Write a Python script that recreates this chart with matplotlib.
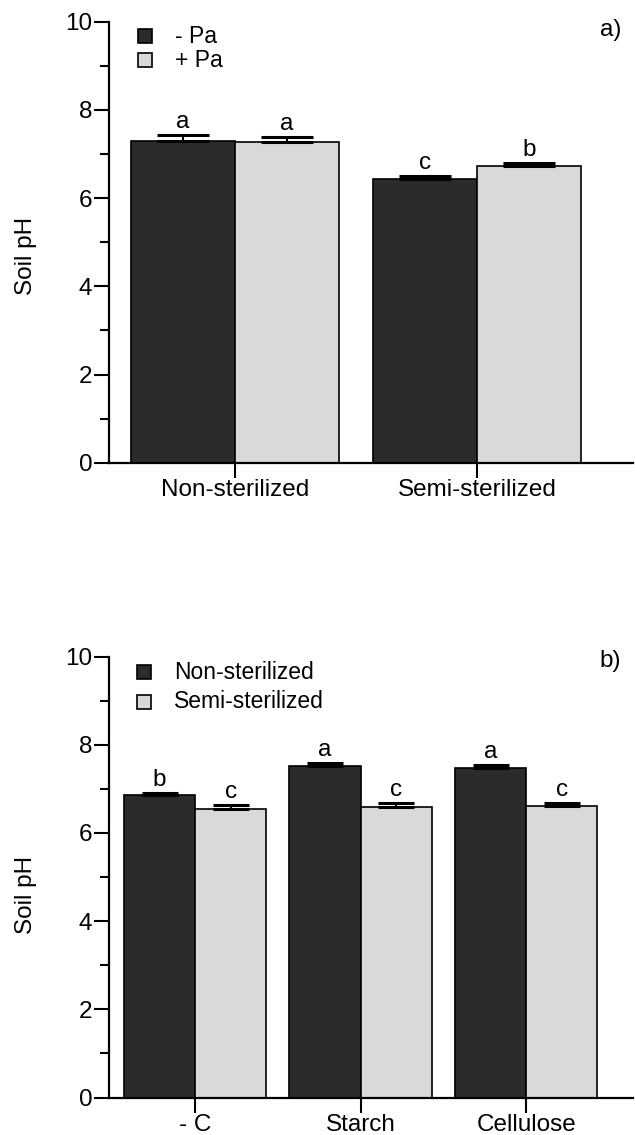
import numpy as np
import matplotlib
matplotlib.use("Agg")
import matplotlib.pyplot as plt
from matplotlib.patches import Rectangle
from matplotlib.ticker import MultipleLocator

plt.rcParams['font.family'] = ['Liberation Sans', 'DejaVu Sans']

# panel a) data
cats_a = ['Non-sterilized', 'Semi-sterilized']
minus_pa = [7.29, 6.43]
minus_pa_err = [0.14, 0.08]
plus_pa = [7.27, 6.73]
plus_pa_err = [0.12, 0.06]
letters_minus_pa = ['a', 'c']
letters_plus_pa = ['a', 'b']

# panel b) data
cats_b = ['- C', 'Starch', 'Cellulose']
non_ster = [6.86, 7.53, 7.48]
non_ster_err = [0.05, 0.06, 0.06]
semi_ster = [6.55, 6.60, 6.61]
semi_ster_err = [0.08, 0.08, 0.07]
letters_non = ['b', 'a', 'a']
letters_semi = ['c', 'c', 'c']

DARK = '#2b2b2b'
LIGHT = '#d9d9d9'
W = 0.43
FS = 17.5

fig = plt.figure(figsize=(6.35, 11.35), dpi=100)
ax1 = fig.add_axes([0.1717, 0.5923, 0.8252, 0.3885])
ax2 = fig.add_axes([0.1717, 0.0330, 0.8252, 0.3885])


def draw_panel(ax, cats, s1, e1, l1, s2, e2, l2, capsize):
    x = np.arange(len(cats))
    for xs, vals, errs, lets, col in [(x - W / 2, s1, e1, l1, DARK),
                                     (x + W / 2, s2, e2, l2, LIGHT)]:
        ax.bar(xs, vals, W, color=col, edgecolor='black', linewidth=1.2, zorder=2)
        ax.errorbar(xs, vals, yerr=[np.zeros(len(vals)), errs], fmt='none',
                    ecolor='black', elinewidth=1.5, capsize=capsize, capthick=2.2,
                    zorder=3)
        for xi, v, er, t in zip(xs, vals, errs, lets):
            ax.annotate(t, (xi, v + er), xytext=(0, 5), textcoords='offset points',
                        ha='center', va='baseline', fontsize=FS)
    ax.set_xlim(-0.52, len(cats) - 1 + 0.645)
    ax.set_ylim(0, 10)
    ax.set_xticks(x)
    ax.set_xticklabels(cats, fontsize=FS)
    ax.yaxis.set_major_locator(MultipleLocator(2))
    ax.yaxis.set_minor_locator(MultipleLocator(1))
    ax.tick_params(axis='y', which='major', labelsize=FS, length=11, width=1.5, pad=1)
    ax.tick_params(axis='y', which='minor', length=6.5, width=1.5)
    ax.tick_params(axis='x', length=11, width=1.5, pad=0.5)
    for sp in ['top', 'right']:
        ax.spines[sp].set_visible(False)
    for sp in ['left', 'bottom']:
        ax.spines[sp].set_linewidth(1.6)
    ax.set_ylabel('Soil pH', fontsize=FS)


def draw_legend(ax, labels, xs, ys, tx, fs):
    for lab, col, y in zip(labels, [DARK, LIGHT], ys):
        ax.add_patch(Rectangle((xs - 0.0134, y - 0.0159), 0.0267, 0.0317,
                               transform=ax.transAxes, facecolor=col,
                               edgecolor='black', linewidth=1.2, clip_on=False))
        ax.text(tx, y, lab, transform=ax.transAxes, fontsize=fs,
                ha='left', va='center')


draw_panel(ax1, cats_a, minus_pa, minus_pa_err, letters_minus_pa,
           plus_pa, plus_pa_err, letters_plus_pa, capsize=19)
draw_panel(ax2, cats_b, non_ster, non_ster_err, letters_non,
           semi_ster, semi_ster_err, letters_semi, capsize=13)
ax1.yaxis.set_label_coords(-0.137, 0.47)
ax2.yaxis.set_label_coords(-0.137, 0.46)

draw_legend(ax1, ['- Pa', '+ Pa'], 0.0687, [0.9676, 0.913], 0.126, 16.5)
draw_legend(ax2, ['Non-sterilized', 'Semi-sterilized'], 0.0674, [0.9647, 0.898], 0.124, 16.5)

fig.text(0.978, 1 - 30 / 1135, 'a)', fontsize=FS, ha='right', va='center')
fig.text(0.978, 1 - 661 / 1135, 'b)', fontsize=FS, ha='right', va='center')

fig.savefig('out.png', dpi=100)
